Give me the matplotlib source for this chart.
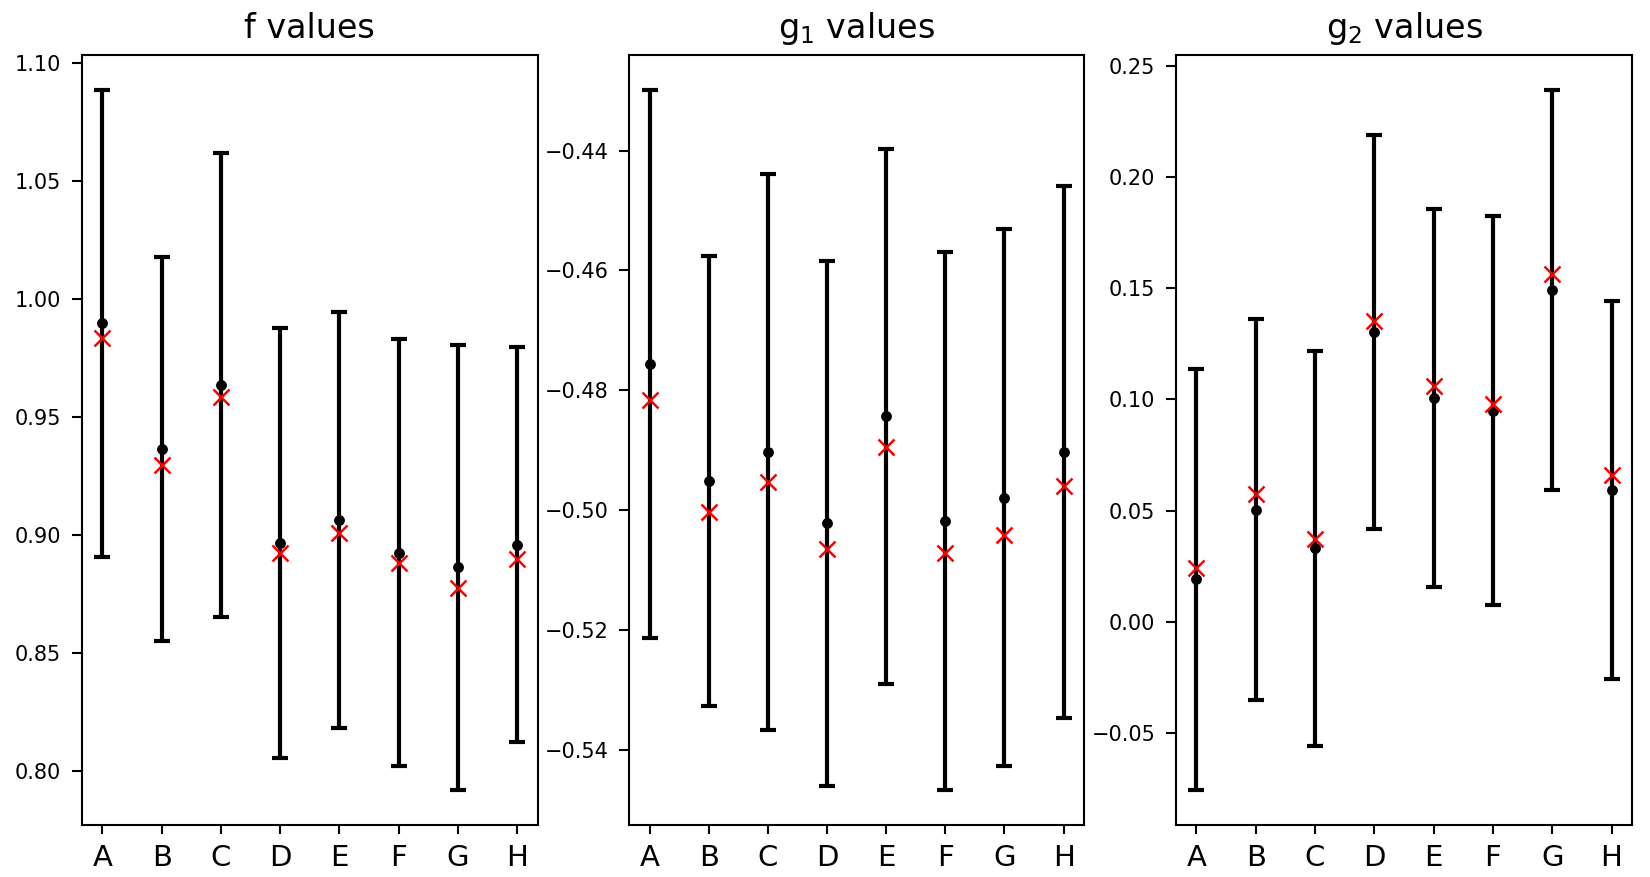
import matplotlib
matplotlib.use("Agg")
import matplotlib.pyplot as plt
import numpy as np

categories = ["A", "B", "C", "D", "E", "F", "G", "H"]

f_mean = [0.9895, 0.9362, 0.9632, 0.8964, 0.9062, 0.8924, 0.8862, 0.8958]
f_err = [0.0989, 0.0814, 0.0983, 0.0911, 0.0881, 0.0906, 0.0943, 0.0837]
f_true = [0.9832, 0.9295, 0.9585, 0.8921, 0.9006, 0.8881, 0.8775, 0.8896]

g1_mean = [-0.4756, -0.4951, -0.4903, -0.5022, -0.4843, -0.5018, -0.4979, -0.4903]
g1_err = [0.0457, 0.0375, 0.0464, 0.0437, 0.0446, 0.0448, 0.0448, 0.0444]
g1_true = [-0.4816, -0.5002, -0.4953, -0.5064, -0.4895, -0.5072, -0.5041, -0.4960]

g2_mean = [0.0191, 0.0505, 0.0330, 0.1303, 0.1007, 0.0949, 0.1491, 0.0591]
g2_err = [0.0945, 0.0858, 0.0889, 0.0885, 0.0848, 0.0874, 0.0899, 0.0849]
g2_true = [0.0244, 0.0575, 0.0371, 0.1354, 0.1059, 0.0980, 0.1564, 0.0658]

titles = ["f values", "g$_1$ values", "g$_2$ values"]

plt.rcParams['font.family'] = ['DejaVu Sans']
plt.rcParams['mathtext.fontset'] = 'dejavusans'

DPI = 150
W, H = 1650.0, 877.0
fig = plt.figure(figsize=(W / DPI, H / DPI), dpi=DPI)

top_px, bot_px = 55.0, 824.7
boxes = [(81.7, 537.7), (629.0, 1084.3), (1175.7, 1632.3)]

series = [(f_mean, f_err, f_true), (g1_mean, g1_err, g1_true), (g2_mean, g2_err, g2_true)]
x = np.arange(len(categories))

for (l, r), (m, e, t), title in zip(boxes, series, titles):
    ax = fig.add_axes([l / W, 1 - bot_px / H, (r - l) / W, (bot_px - top_px) / H])
    ax.errorbar(x, m, yerr=e, fmt='o', color='black', ecolor='black',
                elinewidth=2, capsize=3.8, capthick=2, markersize=4.2, zorder=2)
    ax.plot(x, t, 'x', color='red', markersize=8, markeredgewidth=1.2, zorder=3)
    ax.set_xticks(x)
    ax.set_xticklabels(categories)
    ax.set_title(title, fontsize=16, pad=8)
    ax.tick_params(axis='y', labelsize=10, length=4.8, width=1.0, pad=5.0)
    ax.tick_params(axis='x', labelsize=14, length=4.3, width=1.0, pad=4.8)
    for s in ax.spines.values():
        s.set_linewidth(1.0)

fig.savefig("out.png", dpi=DPI)
